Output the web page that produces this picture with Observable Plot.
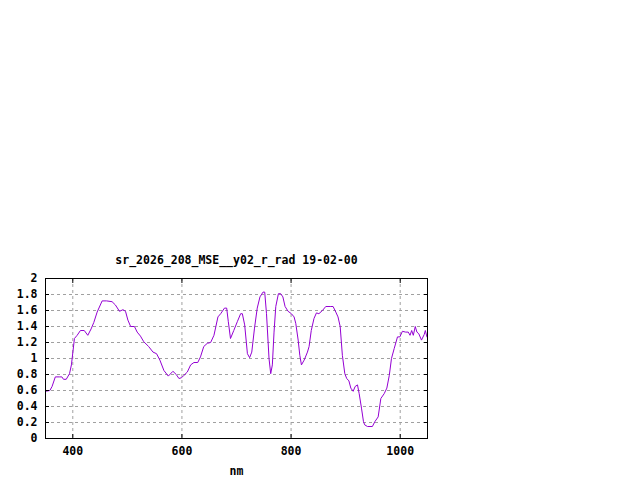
<!DOCTYPE html>
<html>
<head>
<meta charset="utf-8">
<script src="https://cdn.jsdelivr.net/npm/d3@7"></script>
<script src="https://cdn.jsdelivr.net/npm/@observablehq/plot@0.6"></script>
<style>
  html, body { margin: 0; padding: 0; background: white; }
</style>
</head>
<body>
<div id="chart"></div>
<script>
const title = "sr_2026_208_MSE__y02_r_rad 19-02-00";
const xLabel = "nm";
const xTicks = [400, 600, 800, 1000];
const yTicks = [0, 0.2, 0.4, 0.6, 0.8, 1, 1.2, 1.4, 1.6, 1.8, 2];

const wavelength = [350, 358, 362, 368, 376, 380, 383, 388, 394, 397.5, 403, 408, 414, 421, 427.5, 433.6, 438.5, 444.6, 453.8, 462, 472, 478, 485.6, 492, 496.6, 501, 506, 513, 518, 524, 530, 539, 547, 553.5, 559.6, 567, 575, 583.5, 589.6, 594.5, 599.4, 603.7, 609.8, 616, 622, 629, 634, 640, 646.5, 652.6, 658.7, 666, 671, 678, 682, 685, 689, 695, 701.5, 707.6, 710.7, 715, 720, 724, 728, 733, 738, 743, 748.6, 751.7, 755, 759.6, 762.7, 765.7, 768.8, 772, 776.8, 781, 785, 789, 794.5, 800.6, 805.5, 808.6, 813, 816, 819, 824, 830, 833, 837, 842, 846.5, 851, 857.5, 863.6, 872.8, 877, 882, 886, 890, 894, 898.5, 902, 906, 909.5, 913.8, 917.4, 921.7, 924.8, 929, 932.7, 935, 940, 949, 953.5, 959.6, 964.5, 970.6, 975.5, 980, 984, 989, 995, 999.4, 1004, 1010, 1014.8, 1018, 1021, 1024, 1027.6, 1030.6, 1034, 1039, 1044, 1046, 1049];
const radiance = [0.59, 0.60, 0.65, 0.77, 0.77, 0.77, 0.74, 0.74, 0.81, 0.92, 1.25, 1.29, 1.35, 1.35, 1.29, 1.37, 1.45, 1.58, 1.72, 1.72, 1.71, 1.67, 1.59, 1.61, 1.59, 1.48, 1.40, 1.40, 1.33, 1.28, 1.21, 1.15, 1.08, 1.06, 0.98, 0.85, 0.78, 0.84, 0.80, 0.75, 0.76, 0.79, 0.83, 0.92, 0.95, 0.95, 1.02, 1.15, 1.19, 1.20, 1.29, 1.52, 1.56, 1.63, 1.63, 1.46, 1.25, 1.35, 1.46, 1.56, 1.56, 1.42, 1.06, 1.01, 1.08, 1.38, 1.63, 1.77, 1.83, 1.83, 1.56, 1.00, 0.81, 0.92, 1.33, 1.65, 1.81, 1.81, 1.77, 1.65, 1.59, 1.56, 1.52, 1.44, 1.23, 1.04, 0.92, 0.98, 1.08, 1.15, 1.35, 1.50, 1.57, 1.56, 1.60, 1.65, 1.65, 1.65, 1.58, 1.52, 1.40, 1.04, 0.81, 0.75, 0.72, 0.63, 0.59, 0.65, 0.67, 0.56, 0.38, 0.21, 0.17, 0.15, 0.15, 0.21, 0.27, 0.50, 0.56, 0.63, 0.79, 1.00, 1.125, 1.27, 1.27, 1.34, 1.33, 1.33, 1.29, 1.35, 1.29, 1.40, 1.33, 1.31, 1.23, 1.30, 1.35, 1.27];

const data = wavelength.map((x, i) => ({x, y: radiance[i]}));

const font = "DejaVu Sans Mono";
const noText = () => "";

const chart = Plot.plot({
  width: 640,
  height: 480,
  marginLeft: 45,
  marginRight: 213,
  marginTop: 278,
  marginBottom: 42,
  style: {fontFamily: font, fontSize: "11.5px", fontWeight: "bold", background: "white", color: "black"},
  x: {domain: [350, 1050], ticks: xTicks},
  y: {domain: [0, 2], ticks: yTicks},
  marks: [
    Plot.gridX(xTicks, {stroke: "#a0a0a0", strokeOpacity: 1, strokeDasharray: "3,3"}),
    Plot.gridY(yTicks, {stroke: "#a0a0a0", strokeOpacity: 1, strokeDasharray: "3,3"}),
    Plot.line(data, {x: "x", y: "y", stroke: "#9400d3", strokeWidth: 1}),
    Plot.axisX(xTicks, {anchor: "bottom", tickSize: -4, tickPadding: 12, label: null, tickFormat: d => String(d)}),
    Plot.axisX(xTicks, {anchor: "top", tickSize: -4, label: null, tickFormat: noText}),
    Plot.axisY(yTicks, {anchor: "left", tickSize: -4, tickPadding: 12, label: null, tickFormat: d => String(d)}),
    Plot.axisY(yTicks, {anchor: "right", tickSize: -4, label: null, tickFormat: noText}),
    Plot.frame({stroke: "black", strokeWidth: 1}),
    Plot.text([title], {frameAnchor: "top", dy: -18, text: d => d, fontSize: 11.5, fontWeight: "bold", fontFamily: font, fill: "black", lineAnchor: "middle"}),
    Plot.text([xLabel], {frameAnchor: "bottom", dy: 33, text: d => d, fontSize: 11.5, fontWeight: "bold", fontFamily: font, fill: "black", lineAnchor: "middle"})
  ]
});
document.getElementById("chart").appendChild(chart);
</script>
</body>
</html>
